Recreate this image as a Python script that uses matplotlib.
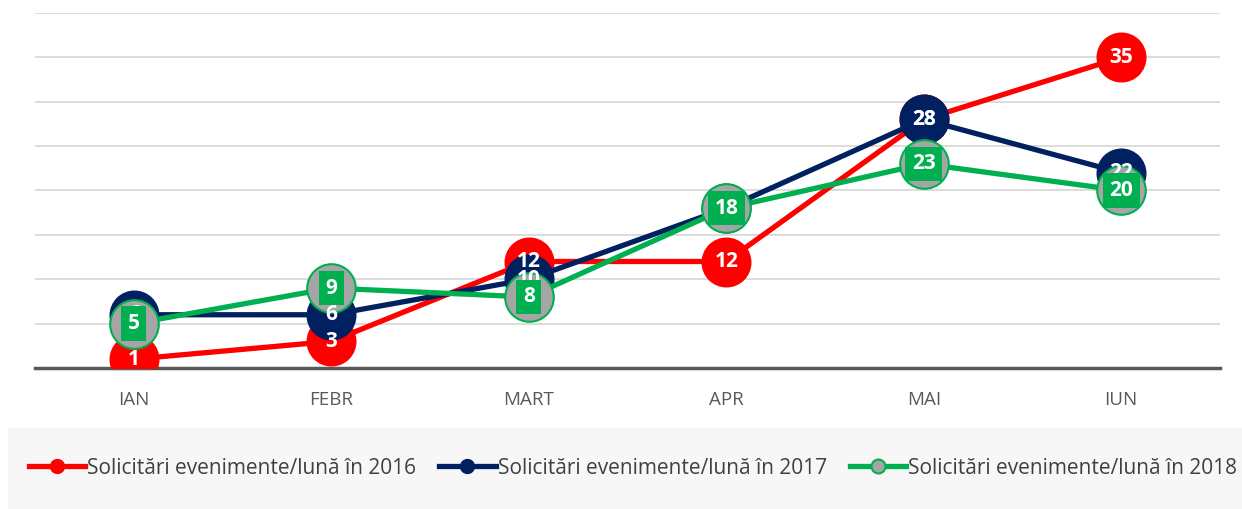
import matplotlib.pyplot as plt
import numpy as np
from matplotlib.patches import Rectangle
from matplotlib.lines import Line2D

months = ['IAN', 'FEBR', 'MART', 'APR', 'MAI', 'IUN']
v2016 = [1, 3, 12, 12, 28, 35]
v2017 = [6, 6, 10, 18, 28, 22]
v2018 = [5, 9, 8, 18, 23, 20]
labels = ['Solicitări evenimente/lună în 2016',
          'Solicitări evenimente/lună în 2017',
          'Solicitări evenimente/lună în 2018']

red, navy, green = '#ff0000', '#002060', '#00b050'

plt.rcParams['font.family'] = ['Open Sans', 'DejaVu Sans']

fig = plt.figure(figsize=(12.42, 5.09), dpi=100)
# grey legend band
fig.patches.append(Rectangle((8 / 1242, 0), 1 - 8 / 1242, 81 / 509,
                             transform=fig.transFigure, color='#f7f7f7', zorder=0))

ax = fig.add_axes([35 / 1242, 141 / 509, 1185 / 1242, 355 / 509])
x = np.arange(len(months))

ms = 35
ax.plot(x, v2016, color=red, lw=3.8, marker='o', ms=ms, mfc=red, mec=red, zorder=3)
ax.plot(x, v2017, color=navy, lw=3.8, marker='o', ms=ms, mfc=navy, mec=navy, zorder=4)
ax.plot(x, v2018, color=green, lw=3.8, marker='o', ms=ms, mfc='#a5a5a5', mec=green,
        mew=1.5, zorder=5)

for xi, v in zip(x, v2016):
    ax.text(xi, v, str(v), color='white', fontsize=15, fontweight='bold',
            ha='center', va='center', zorder=6)
for xi, v in zip(x, v2017):
    ax.text(xi, v, str(v), color='white', fontsize=15, fontweight='bold',
            ha='center', va='center', zorder=7)
for xi, v in zip(x, v2018):
    ax.text(xi, v, str(v), color='white', fontsize=15, fontweight='bold',
            ha='center', va='center', zorder=8,
            bbox=dict(boxstyle='square,pad=0.32', fc=green, ec='none'))

ax.set_xlim(-0.5, len(months) - 0.5)
ax.set_ylim(0, 40)
ax.set_yticks(np.arange(5, 41, 5))
ax.yaxis.grid(True, color='#d9d9d9', lw=1.3)
ax.set_axisbelow(True)
ax.tick_params(axis='y', left=False, labelleft=False)
ax.tick_params(axis='x', bottom=False, colors='#595959', labelsize=13.5, pad=13)
ax.set_xticks(x)
ax.set_xticklabels(months)
for s in ['top', 'right', 'left']:
    ax.spines[s].set_visible(False)
ax.spines['bottom'].set_color('#595959')
ax.spines['bottom'].set_linewidth(2.5)
ax.spines['bottom'].set_zorder(2)

h1 = Line2D([], [], color=red, lw=3.8, marker='o', ms=10, mfc=red, mec=red)
h2 = Line2D([], [], color=navy, lw=3.8, marker='o', ms=10, mfc=navy, mec=navy)
h3 = Line2D([], [], color=green, lw=3.8, marker='o', ms=10, mfc='#a5a5a5', mec=green, mew=1.5)
fig.legend([h1, h2, h3], labels, loc='center', bbox_to_anchor=(633 / 1242, 41 / 509), ncol=3,
           frameon=False, fontsize=15, labelcolor='#404040', handlelength=2.7,
           handletextpad=0.1, columnspacing=1.1)

fig.savefig('out.png', dpi=100)
